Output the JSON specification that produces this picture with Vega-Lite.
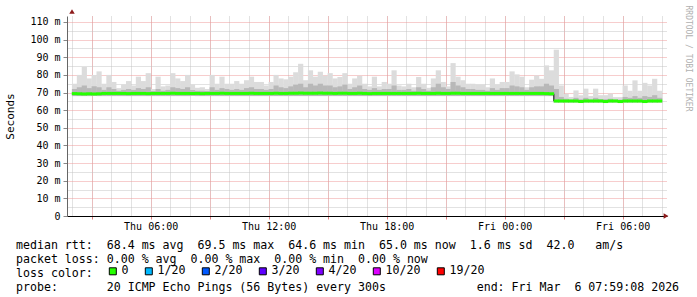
{
 "$schema": "https://vega.github.io/schema/vega-lite/v6.json",
 "width": 600,
 "height": 200,
 "autosize": {"type": "none"},
 "padding": {"left": 67, "top": 16, "right": 30, "bottom": 81},
 "background": "white",
 "config": {"font": "DejaVu Sans Mono", "view": {"stroke": null}},
 "title": {
  "text": [
   "median rtt:\u00a0\u00a068.4 ms avg\u00a0\u00a069.5 ms max\u00a0\u00a064.6 ms min\u00a0\u00a065.0 ms now\u00a0\u00a01.6 ms sd\u00a0\u00a042.0\u00a0\u00a0\u00a0am/s",
   "packet loss: 0.00 % avg\u00a0\u00a00.00 % max\u00a0\u00a00.00 % min\u00a0\u00a00.00 % now",
   "loss color:",
   "probe:\u00a0\u00a0\u00a0\u00a0\u00a0\u00a0\u00a020 ICMP Echo Pings (56 Bytes) every 300s\u00a0\u00a0\u00a0\u00a0\u00a0\u00a0\u00a0\u00a0\u00a0\u00a0\u00a0\u00a0\u00a0end: Fri Mar\u00a0\u00a06 07:59:08 2026"
  ],
  "orient": "bottom",
  "anchor": "start",
  "frame": "group",
  "dx": -51,
  "offset": -38,
  "font": "DejaVu Sans Mono",
  "fontSize": 11.6,
  "fontWeight": "normal",
  "color": "#000000",
  "lineHeight": 14.3,
  "baseline": "top"
 },
 "data": {"values": [
  {"t":"2026-03-05T02:00","lo":68,"hi":75,"mid":72,"med":69.4,"loss":"0"},
  {"t":"2026-03-05T02:15","lo":68,"hi":80,"mid":73,"med":69.3,"loss":"0"},
  {"t":"2026-03-05T02:30","lo":68,"hi":84.5,"mid":74,"med":69.2,"loss":"0"},
  {"t":"2026-03-05T02:45","lo":68,"hi":78,"mid":72.5,"med":69.3,"loss":"0"},
  {"t":"2026-03-05T03:00","lo":68,"hi":80,"mid":73.5,"med":69.2,"loss":"0"},
  {"t":"2026-03-05T03:15","lo":68,"hi":82,"mid":73,"med":69.3,"loss":"0"},
  {"t":"2026-03-05T03:30","lo":68,"hi":75,"mid":71.5,"med":69.5,"loss":"0"},
  {"t":"2026-03-05T03:45","lo":68,"hi":80,"mid":73,"med":69.5,"loss":"0"},
  {"t":"2026-03-05T04:00","lo":68,"hi":76,"mid":72,"med":69.5,"loss":"0"},
  {"t":"2026-03-05T04:15","lo":68,"hi":72.5,"mid":71,"med":69.5,"loss":"0"},
  {"t":"2026-03-05T04:30","lo":68,"hi":74.5,"mid":71.5,"med":69.5,"loss":"0"},
  {"t":"2026-03-05T04:45","lo":68,"hi":76.5,"mid":72,"med":69.4,"loss":"0"},
  {"t":"2026-03-05T05:00","lo":68,"hi":74,"mid":71.5,"med":69.5,"loss":"0"},
  {"t":"2026-03-05T05:15","lo":68,"hi":79,"mid":72.5,"med":69.5,"loss":"0"},
  {"t":"2026-03-05T05:30","lo":68,"hi":76.5,"mid":72,"med":69.5,"loss":"0"},
  {"t":"2026-03-05T05:45","lo":68,"hi":81,"mid":73,"med":69.4,"loss":"0"},
  {"t":"2026-03-05T06:00","lo":68,"hi":72,"mid":70.8,"med":69.5,"loss":"0"},
  {"t":"2026-03-05T06:15","lo":68,"hi":79,"mid":72,"med":69.5,"loss":"0"},
  {"t":"2026-03-05T06:30","lo":68,"hi":73.5,"mid":71,"med":69.5,"loss":"0"},
  {"t":"2026-03-05T06:45","lo":68,"hi":74,"mid":71.5,"med":69.5,"loss":"0"},
  {"t":"2026-03-05T07:00","lo":68,"hi":81,"mid":73,"med":69.6,"loss":"0"},
  {"t":"2026-03-05T07:15","lo":68,"hi":78,"mid":72.5,"med":69.5,"loss":"0"},
  {"t":"2026-03-05T07:30","lo":68,"hi":76.5,"mid":72,"med":69.5,"loss":"0"},
  {"t":"2026-03-05T07:45","lo":68,"hi":80,"mid":73,"med":69.5,"loss":"0"},
  {"t":"2026-03-05T08:00","lo":68,"hi":74.5,"mid":71.5,"med":69.5,"loss":"0"},
  {"t":"2026-03-05T08:15","lo":68,"hi":72.7,"mid":71,"med":69.5,"loss":"0"},
  {"t":"2026-03-05T08:30","lo":68,"hi":73,"mid":71,"med":69.4,"loss":"0"},
  {"t":"2026-03-05T08:45","lo":68,"hi":72,"mid":70.8,"med":69.5,"loss":"0"},
  {"t":"2026-03-05T09:00","lo":68,"hi":80,"mid":73,"med":69.5,"loss":"0"},
  {"t":"2026-03-05T09:15","lo":68,"hi":75,"mid":71.5,"med":69.5,"loss":"0"},
  {"t":"2026-03-05T09:30","lo":68,"hi":79,"mid":72.5,"med":69.6,"loss":"0"},
  {"t":"2026-03-05T09:45","lo":68,"hi":75,"mid":72,"med":69.5,"loss":"0"},
  {"t":"2026-03-05T10:00","lo":68,"hi":75,"mid":71.5,"med":69.5,"loss":"0"},
  {"t":"2026-03-05T10:15","lo":68,"hi":76.5,"mid":72,"med":69.5,"loss":"0"},
  {"t":"2026-03-05T10:30","lo":68,"hi":75,"mid":71.5,"med":69.5,"loss":"0"},
  {"t":"2026-03-05T10:45","lo":68,"hi":77,"mid":72.5,"med":69.5,"loss":"0"},
  {"t":"2026-03-05T11:00","lo":68,"hi":79,"mid":73,"med":69.6,"loss":"0"},
  {"t":"2026-03-05T11:15","lo":68,"hi":76,"mid":72,"med":69.5,"loss":"0"},
  {"t":"2026-03-05T11:30","lo":68,"hi":76,"mid":72,"med":69.5,"loss":"0"},
  {"t":"2026-03-05T11:45","lo":68,"hi":74,"mid":71.5,"med":69.5,"loss":"0"},
  {"t":"2026-03-05T12:00","lo":68,"hi":76,"mid":72,"med":69.5,"loss":"0"},
  {"t":"2026-03-05T12:15","lo":68,"hi":80,"mid":74,"med":69.6,"loss":"0"},
  {"t":"2026-03-05T12:30","lo":68,"hi":78,"mid":73,"med":69.5,"loss":"0"},
  {"t":"2026-03-05T12:45","lo":68,"hi":77.5,"mid":72.5,"med":69.5,"loss":"0"},
  {"t":"2026-03-05T13:00","lo":68,"hi":79,"mid":73.5,"med":69.6,"loss":"0"},
  {"t":"2026-03-05T13:15","lo":68,"hi":81.5,"mid":74.5,"med":69.6,"loss":"0"},
  {"t":"2026-03-05T13:30","lo":68,"hi":86.3,"mid":75,"med":69.7,"loss":"0"},
  {"t":"2026-03-05T13:45","lo":68,"hi":77,"mid":73,"med":69.6,"loss":"0"},
  {"t":"2026-03-05T14:00","lo":68,"hi":82.6,"mid":75,"med":69.6,"loss":"0"},
  {"t":"2026-03-05T14:15","lo":68,"hi":79,"mid":74,"med":69.6,"loss":"0"},
  {"t":"2026-03-05T14:30","lo":68,"hi":81.8,"mid":75,"med":69.7,"loss":"0"},
  {"t":"2026-03-05T14:45","lo":68,"hi":79.5,"mid":74,"med":69.6,"loss":"0"},
  {"t":"2026-03-05T15:00","lo":68,"hi":81,"mid":74,"med":69.6,"loss":"0"},
  {"t":"2026-03-05T15:15","lo":68,"hi":78,"mid":73,"med":69.5,"loss":"0"},
  {"t":"2026-03-05T15:30","lo":68,"hi":78.8,"mid":73.5,"med":69.6,"loss":"0"},
  {"t":"2026-03-05T15:45","lo":68,"hi":81,"mid":74.5,"med":69.6,"loss":"0"},
  {"t":"2026-03-05T16:00","lo":68,"hi":75,"mid":72,"med":69.5,"loss":"0"},
  {"t":"2026-03-05T16:15","lo":68,"hi":78,"mid":73,"med":69.5,"loss":"0"},
  {"t":"2026-03-05T16:30","lo":68,"hi":79.5,"mid":74,"med":69.6,"loss":"0"},
  {"t":"2026-03-05T16:45","lo":68,"hi":75,"mid":72,"med":69.5,"loss":"0"},
  {"t":"2026-03-05T17:00","lo":68,"hi":73.5,"mid":71.5,"med":69.4,"loss":"0"},
  {"t":"2026-03-05T17:15","lo":68,"hi":79,"mid":72.5,"med":69.5,"loss":"0"},
  {"t":"2026-03-05T17:30","lo":68,"hi":73.5,"mid":71.5,"med":69.5,"loss":"0"},
  {"t":"2026-03-05T17:45","lo":68,"hi":76,"mid":72,"med":69.5,"loss":"0"},
  {"t":"2026-03-05T18:00","lo":68,"hi":75,"mid":72,"med":69.5,"loss":"0"},
  {"t":"2026-03-05T18:15","lo":68,"hi":82.6,"mid":74,"med":69.5,"loss":"0"},
  {"t":"2026-03-05T18:30","lo":68,"hi":74,"mid":71.5,"med":69.5,"loss":"0"},
  {"t":"2026-03-05T18:45","lo":68,"hi":73.5,"mid":71.5,"med":69.5,"loss":"0"},
  {"t":"2026-03-05T19:00","lo":68,"hi":75,"mid":72,"med":69.5,"loss":"0"},
  {"t":"2026-03-05T19:15","lo":68,"hi":73,"mid":71,"med":69.5,"loss":"0"},
  {"t":"2026-03-05T19:30","lo":68,"hi":78.8,"mid":73,"med":69.6,"loss":"0"},
  {"t":"2026-03-05T19:45","lo":68,"hi":75,"mid":72,"med":69.5,"loss":"0"},
  {"t":"2026-03-05T20:00","lo":68,"hi":72.7,"mid":71,"med":69.5,"loss":"0"},
  {"t":"2026-03-05T20:15","lo":68,"hi":78,"mid":73,"med":69.5,"loss":"0"},
  {"t":"2026-03-05T20:30","lo":68,"hi":82.6,"mid":75,"med":69.6,"loss":"0"},
  {"t":"2026-03-05T20:45","lo":68,"hi":76,"mid":73,"med":69.5,"loss":"0"},
  {"t":"2026-03-05T21:00","lo":68,"hi":73.5,"mid":72,"med":69.5,"loss":"0"},
  {"t":"2026-03-05T21:15","lo":68,"hi":86.7,"mid":76,"med":69.6,"loss":"0"},
  {"t":"2026-03-05T21:30","lo":68,"hi":79,"mid":74,"med":69.6,"loss":"0"},
  {"t":"2026-03-05T21:45","lo":68,"hi":77,"mid":73,"med":69.5,"loss":"0"},
  {"t":"2026-03-05T22:00","lo":68,"hi":75,"mid":72,"med":69.5,"loss":"0"},
  {"t":"2026-03-05T22:15","lo":68,"hi":75,"mid":72,"med":69.5,"loss":"0"},
  {"t":"2026-03-05T22:30","lo":68,"hi":74.5,"mid":71.5,"med":69.5,"loss":"0"},
  {"t":"2026-03-05T22:45","lo":68,"hi":74.5,"mid":71.5,"med":69.5,"loss":"0"},
  {"t":"2026-03-05T23:00","lo":68,"hi":73,"mid":71,"med":69.5,"loss":"0"},
  {"t":"2026-03-05T23:15","lo":68,"hi":78,"mid":72.5,"med":69.5,"loss":"0"},
  {"t":"2026-03-05T23:30","lo":68,"hi":74.5,"mid":71.5,"med":69.5,"loss":"0"},
  {"t":"2026-03-05T23:45","lo":68,"hi":76,"mid":72.5,"med":69.5,"loss":"0"},
  {"t":"2026-03-06T00:00","lo":68,"hi":76,"mid":72.5,"med":69.5,"loss":"0"},
  {"t":"2026-03-06T00:15","lo":68,"hi":82,"mid":74,"med":69.5,"loss":"0"},
  {"t":"2026-03-06T00:30","lo":68,"hi":80.3,"mid":73.5,"med":69.5,"loss":"0"},
  {"t":"2026-03-06T00:45","lo":68,"hi":79,"mid":73,"med":69.5,"loss":"0"},
  {"t":"2026-03-06T01:00","lo":68,"hi":73,"mid":71.5,"med":69.5,"loss":"0"},
  {"t":"2026-03-06T01:15","lo":68,"hi":77.3,"mid":73,"med":69.5,"loss":"0"},
  {"t":"2026-03-06T01:30","lo":68,"hi":79.7,"mid":73.5,"med":69.5,"loss":"0"},
  {"t":"2026-03-06T01:45","lo":68,"hi":77.8,"mid":73.5,"med":69.5,"loss":"0"},
  {"t":"2026-03-06T02:00","lo":68,"hi":85.4,"mid":75,"med":69.4,"loss":"0"},
  {"t":"2026-03-06T02:15","lo":68,"hi":82.6,"mid":74,"med":69.3,"loss":"0"},
  {"t":"2026-03-06T02:30","lo":64.4,"hi":94.3,"mid":72,"med":65.2,"loss":"0"},
  {"t":"2026-03-06T02:45","lo":64.4,"hi":74,"mid":67.5,"med":65.2,"loss":"0"},
  {"t":"2026-03-06T03:00","lo":64.4,"hi":69.3,"mid":66.5,"med":65.2,"loss":"0"},
  {"t":"2026-03-06T03:15","lo":64.4,"hi":67.5,"mid":66,"med":65.2,"loss":"0"},
  {"t":"2026-03-06T03:30","lo":64.4,"hi":71.2,"mid":67,"med":65.2,"loss":"0"},
  {"t":"2026-03-06T03:45","lo":64.4,"hi":68.5,"mid":66.2,"med":64.9,"loss":"0"},
  {"t":"2026-03-06T04:00","lo":64.4,"hi":72.2,"mid":67,"med":65.2,"loss":"0"},
  {"t":"2026-03-06T04:15","lo":64.4,"hi":68,"mid":66,"med":65.2,"loss":"0"},
  {"t":"2026-03-06T04:30","lo":64.4,"hi":72.2,"mid":67,"med":65.2,"loss":"0"},
  {"t":"2026-03-06T04:45","lo":64.4,"hi":68.5,"mid":66.2,"med":65.2,"loss":"0"},
  {"t":"2026-03-06T05:00","lo":64.4,"hi":68.5,"mid":66.2,"med":64.9,"loss":"0"},
  {"t":"2026-03-06T05:15","lo":64.4,"hi":69.4,"mid":66.5,"med":65.2,"loss":"0"},
  {"t":"2026-03-06T05:30","lo":64.4,"hi":67.4,"mid":66,"med":65.2,"loss":"0"},
  {"t":"2026-03-06T05:45","lo":64.4,"hi":67.4,"mid":66,"med":64.9,"loss":"0"},
  {"t":"2026-03-06T06:00","lo":64.4,"hi":74,"mid":67.5,"med":65.2,"loss":"0"},
  {"t":"2026-03-06T06:15","lo":64.4,"hi":71,"mid":67,"med":65.2,"loss":"0"},
  {"t":"2026-03-06T06:30","lo":64.4,"hi":76.9,"mid":68,"med":65.2,"loss":"0"},
  {"t":"2026-03-06T06:45","lo":64.4,"hi":71,"mid":67,"med":65.2,"loss":"0"},
  {"t":"2026-03-06T07:00","lo":64.4,"hi":75.5,"mid":68,"med":64.9,"loss":"0"},
  {"t":"2026-03-06T07:15","lo":64.4,"hi":74,"mid":67.5,"med":65.2,"loss":"0"},
  {"t":"2026-03-06T07:30","lo":64.4,"hi":77.8,"mid":68.5,"med":65.2,"loss":"0"},
  {"t":"2026-03-06T07:45","lo":64.4,"hi":71,"mid":67,"med":65.2,"loss":"0"}
 ]},
 "layer": [
  {
   "mark": {"type": "bar", "color": "#dcdcdc", "width": 5.2, "xOffset": 2.5},
   "encoding": {
    "x": {"field": "t", "type": "temporal",
     "scale": {"domain": ["2026-03-05T02:00", "2026-03-06T08:00"]},
     "axis": {"orient": "bottom", "grid": true, "gridColor": "#c4c4c4", "gridDash": [1, 1], "tickCount": 30, "labels": false, "ticks": false, "domain": false, "title": null}},
    "y": {"field": "lo", "type": "quantitative", "scale": {"domain": [0, 113.4], "nice": false, "zero": false},
     "axis": {"orient": "left", "grid": true, "gridColor": "#c4c4c4", "gridDash": [1, 1], "values": [5, 15, 25, 35, 45, 55, 65, 75, 85, 95, 105], "labels": false, "ticks": false, "domain": false, "title": null}},
    "y2": {"field": "hi"}
   }
  },
  {
   "mark": {"type": "bar", "color": "#b8b8b8", "width": 5.2, "xOffset": 2.5},
   "encoding": {
    "x": {"field": "t", "type": "temporal",
     "axis": {"orient": "bottom", "grid": true, "gridColor": "#ee9a9a", "gridDash": [1, 1], "tickCount": 10,
      "labelExpr": "hours(datum.value) % 6 == 0 ? timeFormat(datum.value, '%a %H:%M') : ''",
      "labelFont": "DejaVu Sans Mono", "labelFontSize": 10, "labelColor": "#000000", "labelPadding": 2, "labelOverlap": false, "labelFlush": false,
      "ticks": true, "tickSize": 3, "tickColor": "#e08080", "domain": true, "domainColor": "#000000", "domainWidth": 1, "title": null}},
    "y": {"field": "lo", "type": "quantitative",
     "axis": {"orient": "left", "grid": true, "gridColor": "#ee9a9a", "gridDash": [1, 1], "values": [0, 10, 20, 30, 40, 50, 60, 70, 80, 90, 100, 110],
      "labelExpr": "datum.value == 0 ? '0' : datum.value + ' m'",
      "labelFont": "DejaVu Sans Mono", "labelFontSize": 10, "labelColor": "#000000", "labelPadding": 3,
      "ticks": true, "tickSize": 4, "tickColor": "#888888", "domain": true, "domainColor": "#666666",
      "title": "Seconds", "titleFont": "DejaVu Sans Mono", "titleFontSize": 11, "titleFontWeight": "normal", "titleColor": "#000000", "titlePadding": 14}},
    "y2": {"field": "mid"}
   }
  },
  {
   "mark": {"type": "line", "color": "#000000", "strokeWidth": 1, "interpolate": "step-after"},
   "encoding": {
    "x": {"field": "t", "type": "temporal", "axis": null},
    "y": {"field": "med", "type": "quantitative", "axis": null}
   }
  },
  {
   "mark": {"type": "tick", "orient": "horizontal", "thickness": 3, "size": 5.4, "opacity": 1, "xOffset": 2.5},
   "encoding": {
    "x": {"field": "t", "type": "temporal", "axis": null},
    "y": {"field": "med", "type": "quantitative",
     "axis": {"orient": "right", "grid": false, "labels": false, "ticks": false, "domain": false,
      "title": "RRDTOOL / TOBI OETIKER", "titleAngle": 90, "titleX": 20, "titleY": -11, "titleAlign": "left", "titleBaseline": "middle",
      "titleFont": "DejaVu Sans Mono", "titleFontSize": 8, "titleFontWeight": "normal", "titleColor": "#b0b0b0"}},
    "color": {"field": "loss", "type": "nominal",
     "scale": {"domain": ["0", "1/20", "2/20", "3/20", "4/20", "10/20", "19/20"], "range": ["#26ff00", "#00b8ff", "#0059ff", "#5e00ff", "#7e00ff", "#dd00ff", "#ff0000"]},
     "legend": {"orient": "none", "legendX": 40, "legendY": 249.5, "direction": "horizontal", "padding": 0,
      "title": null,
      "labelFont": "DejaVu Sans Mono", "labelFontSize": 11.6, "labelColor": "#000000", "labelOffset": 3, "columnPadding": 14, "gridAlign": "none",
      "symbolType": "square", "symbolSize": 49, "symbolStrokeColor": "#000000", "symbolStrokeWidth": 1, "symbolOpacity": 1}}
   }
  },
  {
   "data": {"values": [{"t": "2026-03-05T02:00", "v": 113.4}]},
   "mark": {"type": "point", "shape": "triangle-up", "filled": true, "size": 30, "color": "#8e1b1b", "opacity": 1, "yOffset": -4.5},
   "encoding": {
    "x": {"field": "t", "type": "temporal", "axis": null},
    "y": {"field": "v", "type": "quantitative", "axis": null}
   }
  },
  {
   "data": {"values": [{"t": "2026-03-06T08:00", "v": 0}]},
   "mark": {"type": "point", "shape": "triangle-right", "filled": true, "size": 30, "color": "#8e1b1b", "opacity": 1, "xOffset": 4},
   "encoding": {
    "x": {"field": "t", "type": "temporal", "axis": null},
    "y": {"field": "v", "type": "quantitative", "axis": null}
   }
  }
 ],
 "resolve": {"axis": {"x": "independent", "y": "independent"}}
}
